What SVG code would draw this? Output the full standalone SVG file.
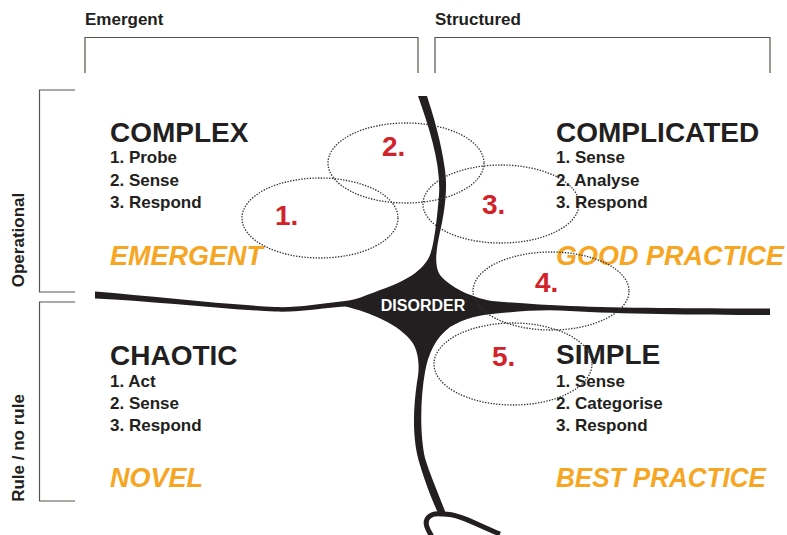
<svg xmlns="http://www.w3.org/2000/svg" width="787" height="535" viewBox="0 0 787 535">
<style>
.ax{font-family:"Liberation Sans",Arial,sans-serif;font-weight:bold;font-size:17px;fill:#231f20}
.br{fill:none;stroke:#5a5249;stroke-width:1.2}
.title{font-family:"Liberation Sans",Arial,sans-serif;font-weight:bold;font-size:28px;fill:#231f20}
.step{font-family:"Liberation Sans",Arial,sans-serif;font-weight:bold;font-size:17px;fill:#231f20}
.prac{font-family:"Liberation Sans",Arial,sans-serif;font-weight:bold;font-style:italic;font-size:27px;fill:#f6a623}
.num{font-family:"Liberation Sans",Arial,sans-serif;font-weight:bold;font-size:28px;fill:#d2232a}
.dot{fill:none;stroke:#333333;stroke-width:1.3;stroke-dasharray:1.4 1.4}
</style>
<rect width="787" height="535" fill="#ffffff"/>
<g id="axis-top">
<text class="ax" x="85" y="25">Emergent</text>
<text class="ax" x="435" y="25">Structured</text>
<path class="br" d="M85 73V37.5H418V73"/>
<path class="br" d="M435 73V37.5H770V73"/>
</g>
<g id="axis-left">
<path class="br" d="M75 90H39.5V292H75"/>
<path class="br" d="M75 302H39.5V501H75"/>
<text class="ax" transform="translate(24 240) rotate(-90)" text-anchor="middle">Operational</text>
<text class="ax" transform="translate(24 448) rotate(-90)" text-anchor="middle">Rule / no rule</text>
</g>
<g id="connectors">
<path fill="#231f20" d="M418 96 C430 130 441 165 439 195 C437 220 434 245 430 255 C424 270 405 282 380 290 C365 296 355 300 345 301 C320 304 295 308 275 307 C220 304 150 296 95 291.5 L95 298.5 C150 301 220 309 275 311.5 C300 312.5 325 307.5 345 306.5 C370 312 400 325 412 342 C419 352 420 368 417 382 C413 410 412 440 420 465 C426 485 432 500 438 513 L446 514 C440 497 430 475 425 458 C420 435 420 400 425 372 C428 355 435 338 450 327 C465 318 480 315 492 314 C520 311 545 309 570 311 C620 314 700 315 770 315 L770 308.5 C700 308.5 620 308 570 306 C545 305 515 303 492 301 C470 297 450 287 440 275 C434 266 436 250 440 232 C444 215 448 190 445 170 C441 140 433 115 427 96 Z"/>
<path fill="none" stroke="#231f20" stroke-width="5" stroke-linecap="round" d="M442 514 C430 512 424 519 427 527 C428 530 430 533 431 535"/>
<path fill="none" stroke="#231f20" stroke-width="5" d="M443 514 C460 514 475 524 500 534"/>
</g>
<g id="complex">
<text class="title" x="110" y="142">COMPLEX</text>
<text class="step" x="110" y="163">1. Probe</text>
<text class="step" x="110" y="186">2. Sense</text>
<text class="step" x="110" y="208">3. Respond</text>
<text class="prac" x="110" y="265">EMERGENT</text>
</g>
<g id="complicated">
<text class="title" x="556" y="142">COMPLICATED</text>
<text class="step" x="556" y="163">1. Sense</text>
<text class="step" x="556" y="186">2. Analyse</text>
<text class="step" x="556" y="208">3. Respond</text>
<text class="prac" x="556" y="265">GOOD PRACTICE</text>
</g>
<g id="chaotic">
<text class="title" x="110" y="365">CHAOTIC</text>
<text class="step" x="110" y="387">1. Act</text>
<text class="step" x="110" y="409">2. Sense</text>
<text class="step" x="110" y="431">3. Respond</text>
<text class="prac" x="110" y="487">NOVEL</text>
</g>
<g id="simple">
<text class="title" x="556" y="364">SIMPLE</text>
<text class="step" x="556" y="387">1. Sense</text>
<text class="step" x="556" y="409">2. Categorise</text>
<text class="step" x="556" y="431">3. Respond</text>
<text class="prac" x="556" y="487" textLength="210" lengthAdjust="spacingAndGlyphs">BEST PRACTICE</text>
</g>
<g id="disorder">
<text x="423" y="311" text-anchor="middle" font-family="Liberation Sans, Arial, sans-serif" font-weight="bold" font-size="16" fill="#ffffff">DISORDER</text>
</g>
<g id="transitions">
<ellipse class="dot" cx="320" cy="218" rx="78" ry="40"/>
<ellipse class="dot" cx="406" cy="163" rx="78" ry="40"/>
<ellipse class="dot" cx="501" cy="204" rx="78" ry="39"/>
<ellipse class="dot" cx="551" cy="291" rx="78" ry="39"/>
<ellipse class="dot" cx="513" cy="364" rx="79" ry="41"/>
<text class="num" x="275" y="225">1.</text>
<text class="num" x="382" y="156">2.</text>
<text class="num" x="482" y="214">3.</text>
<text class="num" x="535" y="292">4.</text>
<text class="num" x="492" y="366">5.</text>
</g>
</svg>
